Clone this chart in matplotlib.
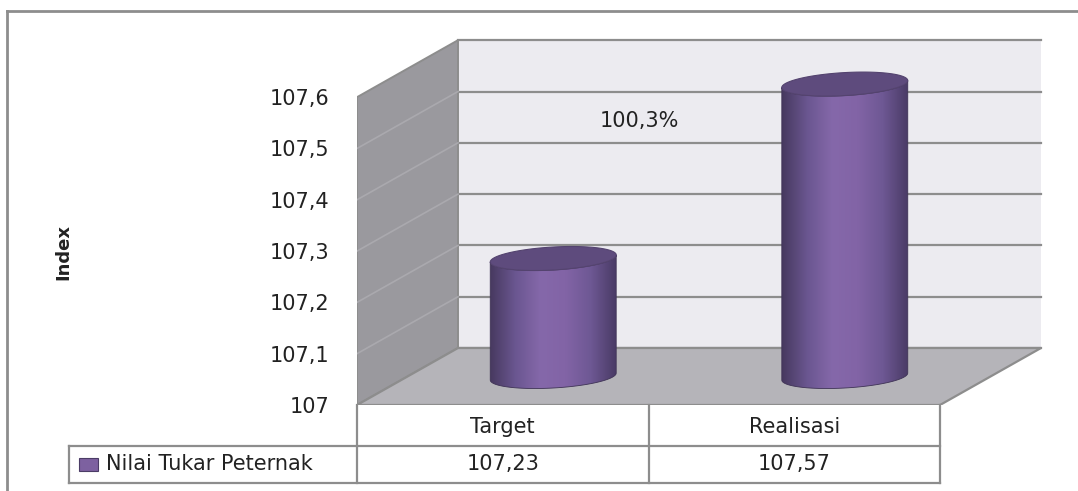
import numpy as np
import matplotlib.pyplot as plt
from matplotlib.patches import Polygon, Rectangle
from matplotlib.colors import LinearSegmentedColormap

# data
categories = ['Target', 'Realisasi']
values = [107.23, 107.57]
value_labels = ['107,23', '107,57']
series_name = 'Nilai Tukar Peternak'
yticks = [107, 107.1, 107.2, 107.3, 107.4, 107.5, 107.6]
ytick_labels = ['107', '107,1', '107,2', '107,3', '107,4', '107,5', '107,6']
ratio_label = '100,3%'

W, H = 1078, 491
PX_X = 291.5   # pixels per category
PX_Y = 513.0   # pixels per index unit
x0_px, y0_px = 357, 405   # front-bottom-left corner of the plot (pixels from top-left)
fs = 15
txt_col = '#222222'

fig = plt.figure(figsize=(W / 100, H / 100), dpi=100)
xmax, ymax = 2.45, 107.72
ax_w, ax_h = xmax * PX_X, (ymax - 107) * PX_Y
ax = fig.add_axes([x0_px / W, 1 - y0_px / H, ax_w / W, ax_h / H])
ax.set_facecolor('none')
for s in ax.spines.values():
    s.set_visible(False)

# depth offset of the back wall (data units)
dx = 101 / PX_X
dy = 57 / PX_Y
vmin, vmax = yticks[0], yticks[-1]
ncat = len(categories)
edge = '#8d8d8d'

# back wall
ax.add_patch(Polygon([(dx, vmin + dy), (ncat + dx, vmin + dy), (ncat + dx, vmax + dy), (dx, vmax + dy)],
                     fc='#ecebf0', ec='none', zorder=1))
for v in yticks:
    ax.plot([dx, ncat + dx], [v + dy, v + dy], color=edge, lw=1.6, zorder=2)

# left wall
ax.add_patch(Polygon([(0, vmin), (dx, vmin + dy), (dx, vmax + dy), (0, vmax)],
                     fc='#9a999e', ec=edge, lw=1.4, zorder=2))
for v in yticks[1:-1]:
    ax.plot([0, dx], [v, v + dy], color='#aaa9ae', lw=1.2, zorder=3)

# floor
ax.add_patch(Polygon([(0, vmin), (ncat, vmin), (ncat + dx, vmin + dy), (dx, vmin + dy)],
                     fc='#b5b4b9', ec=edge, lw=1.6, zorder=3))

# cylinders
cmap = LinearSegmentedColormap.from_list(
    'cyl', ['#47395f', '#6a5690', '#8568aa', '#8264a6', '#6e5894', '#4a3b66'])
a = 63 / PX_X
b = 11.5 / PX_Y
k = 3.5 / PX_Y
t_front = np.linspace(np.pi, 2 * np.pi, 80)
t_all = np.linspace(0, 2 * np.pi, 160)
for i, v in enumerate(values):
    cx = i + 0.5 + dx / 2
    base = vmin + dy / 2
    top = v + dy / 2
    ex = cx + a * np.cos(t_front)
    ey_bot = base + b * np.sin(t_front) + k * np.cos(t_front)
    ey_top = top + b * np.sin(t_front) + k * np.cos(t_front)
    body = np.vstack([np.column_stack([ex, ey_bot]), np.column_stack([ex[::-1], ey_top[::-1]])])
    body_patch = Polygon(body, fc='none', ec='#3f3356', lw=0.6, zorder=6)
    ax.add_patch(body_patch)
    grad = np.linspace(0, 1, 256).reshape(1, -1)
    im = ax.imshow(grad, cmap=cmap, aspect='auto', zorder=5,
                   extent=[cx - a, cx + a, base - b - k, top + b + k], origin='lower')
    im.set_clip_path(body_patch)
    tx = cx + a * np.cos(t_all)
    ty = top + b * np.sin(t_all) + k * np.cos(t_all)
    ax.add_patch(Polygon(np.column_stack([tx, ty]), fc='#5e4b7d', ec='#54436f', lw=0.8, zorder=7))

ax.set_xlim(0, xmax)
ax.set_ylim(107, ymax)

# y axis labels
ax.set_xticks([])
ax.set_yticks(yticks, ytick_labels)
ax.tick_params(axis='y', length=0, pad=20, labelsize=fs, labelcolor=txt_col)
ax.set_ylabel('Index', fontsize=13, fontweight='bold', color=txt_col)
ax.yaxis.set_label_coords((72 - x0_px) / ax_w, (y0_px - 252) / ax_h)

ax.text(0.5 + 0.47, vmax - 0.047, ratio_label, ha='center', va='center', fontsize=fs, color=txt_col)

# data table below the plot
tr = ax.get_xaxis_transform()
row1 = -(446 - y0_px) / ax_h
row2 = -(483 - y0_px) / ax_h
leg_left = -(x0_px - 69) / PX_X
tl = dict(color=edge, lw=1.6, clip_on=False, transform=tr, zorder=4)
for xv in range(ncat + 1):
    ax.plot([xv, xv], [0, row2], **tl)
ax.plot([leg_left, ncat], [row1, row1], **tl)
ax.plot([leg_left, ncat], [row2, row2], **tl)
ax.plot([leg_left, leg_left], [row1, row2], **tl)
for i, (c, lab) in enumerate(zip(categories, value_labels)):
    ax.text(i + 0.5, row1 / 2 - 0.004, c, transform=tr, ha='center', va='center', fontsize=fs, color=txt_col)
    ax.text(i + 0.5, (row1 + row2) / 2, lab, transform=tr, ha='center', va='center', fontsize=fs, color=txt_col)
sw_h = 13 / ax_h
ax.add_patch(Rectangle((leg_left + 10 / PX_X, (row1 + row2) / 2 - sw_h / 2), 19 / PX_X, sw_h,
                       transform=tr, fc='#7d61a0', ec='#4b3c66', lw=0.8, clip_on=False))
ax.text(leg_left + 37 / PX_X, (row1 + row2) / 2, series_name, transform=tr, ha='left', va='center',
        fontsize=fs, color=txt_col)

# outer chart frame (top and left only visible)
fig.add_artist(plt.Line2D([7 / W, 1], [1 - 11 / H, 1 - 11 / H], color=edge, lw=2, transform=fig.transFigure))
fig.add_artist(plt.Line2D([7 / W, 7 / W], [0, 1 - 11 / H], color=edge, lw=2, transform=fig.transFigure))

fig.savefig('out.png', dpi=100)
